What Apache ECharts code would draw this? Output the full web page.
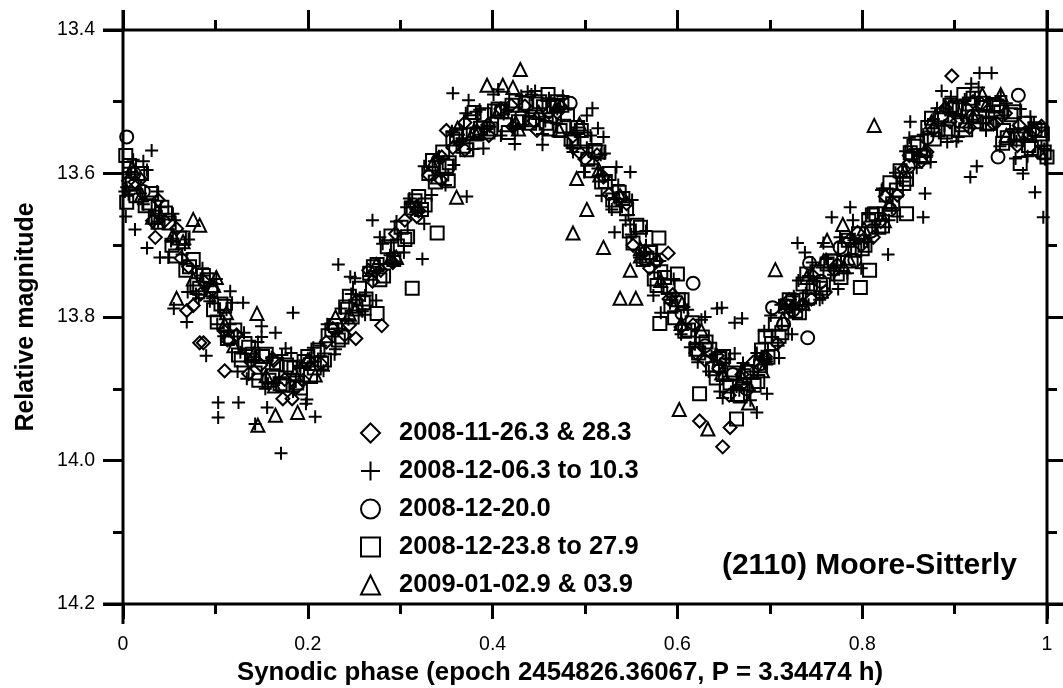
<!DOCTYPE html>
<html>
<head>
<meta charset="utf-8">
<script src="https://cdn.jsdelivr.net/npm/echarts@6/dist/echarts.min.js"></script>
<style>html,body{margin:0;padding:0;background:#fff}#c{width:1063px;height:688px}</style>
</head>
<body>
<div id="c"></div>
<script>
// ---- data: [phase, relative magnitude] ----
const seriesNames = ['2008-11-26.3 & 28.3', '2008-12-06.3 to 10.3', '2008-12-20.0', '2008-12-23.8 to 27.9', '2009-01-02.9 & 03.9'];
const xTicks = [0, 0.2, 0.4, 0.6, 0.8, 1];
const yTicks = [13.4, 13.6, 13.8, 14.0, 14.2];

const diamonds = [
[0.006,13.610],[0.019,13.608],[0.032,13.666],[0.045,13.666],[0.058,13.677],[0.071,13.730],[0.084,13.768],[0.097,13.762],
[0.110,13.820],[0.123,13.825],[0.136,13.879],[0.149,13.867],[0.162,13.858],[0.175,13.887],[0.188,13.898],[0.201,13.861],
[0.214,13.865],[0.227,13.816],[0.240,13.825],[0.253,13.777],[0.266,13.735],[0.279,13.735],[0.292,13.724],[0.305,13.665],
[0.318,13.660],[0.331,13.602],[0.344,13.609],[0.357,13.564],[0.370,13.529],[0.383,13.541],[0.396,13.547],[0.409,13.510],
[0.422,13.535],[0.435,13.506],[0.448,13.540],[0.461,13.515],[0.474,13.507],[0.487,13.548],[0.500,13.580],[0.513,13.574],
[0.526,13.629],[0.539,13.633],[0.552,13.700],[0.565,13.708],[0.578,13.722],[0.591,13.775],[0.604,13.814],[0.617,13.811],
[0.630,13.860],[0.643,13.854],[0.656,13.909],[0.669,13.895],[0.682,13.863],[0.695,13.855],[0.708,13.837],[0.721,13.776],
[0.734,13.784],[0.747,13.743],[0.760,13.765],[0.773,13.727],[0.786,13.693],[0.799,13.700],[0.812,13.689],[0.825,13.632],
[0.838,13.630],[0.851,13.575],[0.864,13.583],[0.877,13.539],[0.890,13.509],[0.903,13.527],[0.916,13.536],[0.929,13.503],
[0.942,13.531],[0.955,13.516],[0.968,13.561],[0.981,13.546],[0.994,13.534],
[0.649,13.981],[0.657,13.954],[0.624,13.945],[0.590,13.711],[0.083,13.836],[0.069,13.791],[0.076,13.784],[0.035,13.689],
[0.280,13.812],[0.110,13.875],[0.087,13.836],[0.897,13.464],[0.173,13.914],[0.183,13.914],[0.252,13.830],[0.350,13.540],
[0.013,13.612],[0.038,13.637],[0.063,13.718],[0.088,13.751],[0.113,13.832],[0.138,13.862],[0.163,13.861],[0.195,13.888],
[0.220,13.835],[0.245,13.811],[0.270,13.750],[0.295,13.684],[0.320,13.652],[0.345,13.577],[0.370,13.567],[0.395,13.532],
[0.420,13.505],[0.445,13.527],[0.470,13.515],[0.495,13.572],[0.520,13.605],[0.545,13.642],[0.570,13.732],[0.595,13.769],
[0.620,13.850],[0.645,13.872],[0.670,13.880],[0.695,13.859],[0.720,13.785],[0.745,13.775],[0.770,13.735],[0.795,13.682],
[0.820,13.667],[0.845,13.594],[0.870,13.570],[0.895,13.528],[0.920,13.500],[0.945,13.529],[0.970,13.533],[0.990,13.570]
];

const pluses = [
[0.004,13.619],[0.011,13.581],[0.019,13.628],[0.026,13.595],[0.034,13.670],[0.041,13.647],[0.049,13.717],[0.056,13.665],
[0.064,13.713],[0.071,13.692],[0.079,13.768],[0.086,13.732],[0.094,13.778],[0.101,13.747],[0.109,13.827],[0.116,13.810],
[0.124,13.876],[0.131,13.822],[0.139,13.863],[0.146,13.835],[0.154,13.900],[0.161,13.856],[0.169,13.887],[0.176,13.844],
[0.184,13.904],[0.191,13.868],[0.199,13.915],[0.206,13.843],[0.214,13.855],[0.221,13.810],[0.229,13.852],[0.236,13.788],
[0.244,13.803],[0.251,13.746],[0.259,13.792],[0.266,13.743],[0.274,13.777],[0.281,13.698],[0.289,13.714],[0.296,13.667],
[0.304,13.710],[0.311,13.642],[0.319,13.652],[0.326,13.590],[0.334,13.630],[0.341,13.578],[0.349,13.616],[0.356,13.541],
[0.364,13.560],[0.371,13.516],[0.379,13.566],[0.386,13.511],[0.394,13.538],[0.401,13.490],[0.409,13.547],[0.416,13.511],
[0.424,13.559],[0.431,13.492],[0.439,13.520],[0.446,13.485],[0.454,13.545],[0.461,13.495],[0.469,13.530],[0.476,13.492],
[0.484,13.561],[0.491,13.536],[0.499,13.598],[0.506,13.547],[0.514,13.593],[0.521,13.572],[0.529,13.650],[0.536,13.616],
[0.544,13.665],[0.551,13.637],[0.559,13.717],[0.566,13.700],[0.574,13.770],[0.581,13.722],[0.589,13.768],[0.596,13.747],
[0.604,13.824],[0.611,13.790],[0.619,13.838],[0.626,13.804],[0.634,13.876],[0.641,13.852],[0.649,13.913],[0.656,13.859],
[0.664,13.897],[0.671,13.864],[0.679,13.916],[0.686,13.850],[0.694,13.860],[0.701,13.798],[0.709,13.840],[0.716,13.789],
[0.724,13.824],[0.731,13.749],[0.739,13.767],[0.746,13.724],[0.754,13.776],[0.761,13.719],[0.769,13.741],[0.776,13.689],
[0.784,13.739],[0.791,13.693],[0.799,13.732],[0.806,13.655],[0.814,13.671],[0.821,13.623],[0.829,13.665],[0.836,13.599],
[0.844,13.611],[0.851,13.550],[0.859,13.592],[0.866,13.546],[0.874,13.584],[0.881,13.509],[0.889,13.533],[0.896,13.493],
[0.904,13.549],[0.911,13.497],[0.919,13.525],[0.926,13.480],[0.934,13.540],[0.941,13.506],[0.949,13.562],[0.956,13.502],
[0.964,13.538],[0.971,13.510],[0.979,13.576],[0.986,13.529],[0.994,13.562],
[0.031,13.568],[0.013,13.678],[0.026,13.704],[0.040,13.717],[0.116,13.764],[0.130,13.780],[0.055,13.788],[0.069,13.807],
[0.090,13.854],[0.103,13.919],[0.103,13.940],[0.125,13.919],[0.156,13.926],[0.208,13.939],[0.171,13.990],[0.233,13.727],
[0.165,13.822],[0.184,13.794],[0.150,13.813],[0.143,13.949],[0.357,13.488],[0.270,13.665],[0.372,13.632],[0.324,13.719],
[0.508,13.509],[0.514,13.537],[0.520,13.549],[0.549,13.598],[0.532,13.682],[0.643,13.788],[0.648,13.787],[0.662,13.808],
[0.670,13.802],[0.730,13.697],[0.738,13.710],[0.686,13.933],[0.697,13.907],[0.927,13.460],[0.940,13.460],[0.852,13.528],
[0.787,13.647],[0.767,13.661],[0.828,13.713],[0.866,13.661],[0.868,13.628],[0.924,13.590],[0.917,13.605],[0.987,13.626],
[0.974,13.600],[0.996,13.661],[0.002,13.625],[0.003,13.660],
[0.008,13.592],[0.022,13.643],[0.037,13.625],[0.052,13.694],[0.067,13.699],[0.082,13.774],[0.097,13.774],[0.112,13.790],
[0.127,13.849],[0.142,13.856],[0.157,13.893],[0.172,13.853],[0.187,13.890],[0.202,13.857],[0.217,13.875],[0.232,13.816],
[0.247,13.768],[0.262,13.770],[0.277,13.726],[0.292,13.724],[0.307,13.647],[0.322,13.647],[0.337,13.583],[0.352,13.602],
[0.367,13.551],[0.382,13.514],[0.397,13.535],[0.412,13.517],[0.427,13.538],[0.442,13.490],[0.457,13.527],[0.472,13.507],
[0.487,13.570],[0.502,13.564],[0.517,13.574],[0.532,13.634],[0.547,13.658],[0.562,13.720],[0.577,13.712],[0.592,13.781],
[0.607,13.786],[0.622,13.863],[0.637,13.855],[0.652,13.858],[0.667,13.902],[0.682,13.876],[0.697,13.862],[0.712,13.783],
[0.727,13.789],[0.742,13.743],[0.757,13.773],[0.772,13.728],[0.787,13.690],[0.802,13.695],[0.817,13.655],[0.832,13.648],
[0.847,13.569],[0.862,13.574],[0.877,13.524],[0.892,13.556],[0.907,13.518],[0.922,13.495],[0.937,13.523],[0.952,13.519],
[0.967,13.555],[0.982,13.521],[0.997,13.566],
[0.006,13.629],[0.022,13.583],[0.038,13.667],[0.054,13.656],[0.070,13.765],[0.086,13.742],[0.102,13.810],[0.118,13.780],
[0.134,13.886],[0.150,13.828],[0.166,13.892],[0.182,13.850],[0.198,13.921],[0.214,13.840],[0.230,13.845],[0.246,13.744],
[0.262,13.797],[0.278,13.689],[0.294,13.715],[0.310,13.635],[0.326,13.670],[0.342,13.576],[0.358,13.588],[0.374,13.498],
[0.390,13.565],[0.406,13.483],[0.422,13.535],[0.438,13.486],[0.454,13.560],[0.470,13.510],[0.486,13.564],[0.502,13.519],
[0.518,13.631],[0.534,13.591],[0.550,13.685],[0.566,13.680],[0.582,13.794],[0.598,13.771],[0.614,13.842],[0.630,13.800],
[0.646,13.904],[0.662,13.851],[0.678,13.902],[0.694,13.820],[0.710,13.857],[0.726,13.771],[0.742,13.783],[0.758,13.697],
[0.774,13.761],[0.790,13.665],[0.806,13.695],[0.822,13.621],[0.838,13.660],[0.854,13.570],[0.870,13.575],[0.886,13.485],
[0.902,13.555],[0.918,13.475],[0.934,13.530],[0.950,13.492],[0.966,13.579],[0.982,13.536],[0.998,13.580]
];

const circles = [
[0.004,13.549],[0.012,13.600],[0.022,13.625],[0.484,13.502],[0.605,13.795],[0.617,13.753],[0.630,13.840],[0.645,13.870],
[0.660,13.880],[0.675,13.900],[0.690,13.865],[0.703,13.787],[0.715,13.810],[0.725,13.790],[0.741,13.829],[0.743,13.725],
[0.755,13.750],[0.776,13.703],[0.792,13.721],[0.810,13.680],[0.830,13.650],[0.850,13.590],[0.870,13.550],[0.898,13.507],
[0.920,13.520],[0.947,13.577],[0.969,13.491],[0.985,13.540]
];

const squares = [
[0.003,13.575],[0.010,13.615],[0.016,13.600],[0.024,13.645],[0.031,13.628],[0.038,13.668],[0.046,13.655],[0.053,13.700],
[0.061,13.690],[0.068,13.735],[0.076,13.720],[0.083,13.760],[0.091,13.748],[0.098,13.790],[0.106,13.782],[0.113,13.830],
[0.121,13.818],[0.128,13.860],[0.136,13.842],[0.143,13.878],[0.151,13.855],[0.158,13.888],[0.166,13.866],[0.173,13.895],
[0.181,13.870],[0.188,13.892],[0.196,13.862],[0.203,13.883],[0.211,13.846],[0.218,13.860],[0.226,13.818],[0.233,13.832],
[0.241,13.786],[0.248,13.800],[0.256,13.760],[0.263,13.775],[0.271,13.730],[0.278,13.748],[0.286,13.702],[0.293,13.720],
[0.301,13.675],[0.308,13.688],[0.316,13.638],[0.323,13.650],[0.331,13.600],[0.338,13.612],[0.346,13.570],[0.353,13.585],
[0.361,13.548],[0.368,13.562],[0.376,13.528],[0.383,13.545],[0.391,13.518],[0.398,13.538],[0.406,13.510],[0.413,13.532],
[0.421,13.505],[0.428,13.528],[0.436,13.502],[0.443,13.525],[0.451,13.500],[0.458,13.530],[0.466,13.506],[0.473,13.540],
[0.481,13.518],[0.488,13.556],[0.496,13.540],[0.503,13.580],[0.511,13.568],[0.518,13.612],[0.526,13.600],[0.533,13.645],
[0.541,13.635],[0.548,13.680],[0.556,13.672],[0.563,13.720],[0.571,13.710],[0.578,13.756],[0.586,13.745],[0.593,13.785],
[0.601,13.776],[0.608,13.820],[0.616,13.808],[0.623,13.850],[0.631,13.835],[0.638,13.872],[0.646,13.858],[0.653,13.896],
[0.661,13.878],[0.668,13.910],[0.676,13.876],[0.683,13.895],[0.691,13.846],[0.698,13.856],[0.706,13.810],[0.713,13.822],
[0.721,13.776],[0.728,13.792],[0.736,13.754],[0.743,13.772],[0.751,13.737],[0.758,13.755],[0.766,13.722],[0.773,13.740],
[0.781,13.706],[0.788,13.722],[0.796,13.684],[0.803,13.700],[0.811,13.658],[0.818,13.675],[0.826,13.630],[0.833,13.642],
[0.841,13.596],[0.848,13.608],[0.856,13.562],[0.863,13.575],[0.871,13.536],[0.878,13.552],[0.886,13.518],[0.893,13.538],
[0.901,13.508],[0.908,13.532],[0.916,13.503],[0.923,13.528],[0.931,13.502],[0.938,13.530],[0.946,13.506],[0.953,13.540],
[0.961,13.518],[0.968,13.552],[0.976,13.530],[0.983,13.565],[0.991,13.540],[0.997,13.570],
[0.313,13.760],[0.275,13.795],[0.340,13.683],[0.581,13.809],[0.798,13.759],[0.808,13.735],[0.848,13.656],[0.971,13.586],
[1.000,13.577],[0.624,13.907],[0.664,13.942],[0.004,13.640],[0.690,13.868],[0.352,13.610],[0.475,13.505],[0.460,13.490],
[0.895,13.505],[0.910,13.490],[0.580,13.690],[0.600,13.740],[0.952,13.558],
[0.007,13.589],[0.014,13.631],[0.020,13.600],[0.028,13.641],[0.035,13.661],[0.042,13.647],[0.050,13.669],[0.057,13.715],
[0.065,13.690],[0.072,13.730],[0.080,13.755],[0.087,13.742],[0.095,13.762],[0.102,13.807],[0.110,13.785],[0.117,13.828],
[0.125,13.853],[0.132,13.837],[0.140,13.852],[0.147,13.888],[0.155,13.852],[0.162,13.882],[0.170,13.893],[0.177,13.867],
[0.185,13.871],[0.192,13.899],[0.200,13.855],[0.207,13.871],[0.215,13.864],[0.222,13.826],[0.230,13.812],[0.237,13.828],
[0.245,13.771],[0.252,13.785],[0.260,13.780],[0.267,13.739],[0.275,13.727],[0.282,13.743],[0.290,13.687],[0.297,13.701],
[0.305,13.692],[0.312,13.648],[0.320,13.632],[0.327,13.644],[0.335,13.582],[0.342,13.592],[0.350,13.590],[0.357,13.552],
[0.365,13.546],[0.372,13.567],[0.380,13.515],[0.387,13.537],[0.395,13.542],[0.402,13.513],[0.410,13.514],[0.417,13.543],
[0.425,13.499],[0.432,13.523],[0.440,13.530],[0.447,13.503],[0.455,13.507],[0.462,13.538],[0.470,13.500],[0.477,13.534],
[0.485,13.552],[0.492,13.536],[0.500,13.552],[0.507,13.596],[0.515,13.570],[0.522,13.611],[0.530,13.637],[0.537,13.626],
[0.545,13.649],[0.552,13.697],[0.560,13.675],[0.567,13.718],[0.575,13.747],[0.582,13.737],[0.590,13.757],[0.597,13.801],
[0.605,13.776],[0.612,13.818],[0.620,13.845],[0.627,13.828],[0.635,13.845],[0.642,13.885],[0.650,13.855],[0.657,13.892],
[0.665,13.908],[0.672,13.882],[0.680,13.877],[0.687,13.890],[0.695,13.827],[0.702,13.837],[0.710,13.827],[0.717,13.785],
[0.725,13.777],[0.732,13.794],[0.740,13.740],[0.747,13.759],[0.755,13.760],[0.762,13.726],[0.770,13.722],[0.777,13.745],
[0.785,13.693],[0.792,13.707],[0.800,13.705],[0.807,13.666],[0.815,13.656],[0.822,13.673],[0.830,13.613],[0.837,13.623],
[0.845,13.614],[0.852,13.571],[0.860,13.557],[0.867,13.577],[0.875,13.523],[0.882,13.539],[0.890,13.542],[0.897,13.510],
[0.905,13.511],[0.912,13.539],[0.920,13.495],[0.927,13.521],[0.935,13.530],[0.942,13.504],[0.950,13.514],[0.957,13.550],
[0.965,13.514],[0.972,13.546],[0.980,13.561],[0.987,13.538],[0.995,13.545]
];

const triangles = [
[0.010,13.592],[0.032,13.661],[0.054,13.686],[0.076,13.747],[0.098,13.756],[0.120,13.840],[0.142,13.851],[0.164,13.896],
[0.186,13.879],[0.208,13.881],[0.230,13.800],[0.252,13.789],[0.274,13.727],[0.296,13.717],[0.318,13.645],[0.340,13.605],
[0.362,13.537],[0.384,13.543],[0.406,13.513],[0.428,13.538],[0.450,13.515],[0.472,13.539],[0.494,13.531],[0.516,13.602],
[0.538,13.631],[0.560,13.715],[0.582,13.749],[0.604,13.809],[0.626,13.819],[0.648,13.878],[0.670,13.885],[0.692,13.875],
[0.714,13.803],[0.736,13.781],[0.758,13.722],[0.780,13.730],[0.802,13.677],[0.824,13.666],[0.846,13.597],[0.868,13.568],
[0.890,13.507],[0.912,13.527],[0.934,13.505],[0.956,13.547],[0.978,13.545],
[0.430,13.455],[0.491,13.607],[0.502,13.650],[0.487,13.683],[0.520,13.703],[0.549,13.735],[0.538,13.774],[0.555,13.774],
[0.602,13.929],[0.633,13.956],[0.706,13.734],[0.813,13.533],[0.779,13.671],[0.762,13.693],[0.076,13.664],[0.083,13.672],
[0.101,13.745],[0.058,13.774],[0.145,13.795],[0.112,13.794],[0.165,13.937],[0.189,13.933],[0.146,13.951],[0.394,13.477],
[0.411,13.477],[0.422,13.480],[0.930,13.490],[0.950,13.490],[0.677,13.920],[0.361,13.633],
[0.020,13.630],[0.065,13.695],[0.110,13.810],[0.155,13.882],[0.200,13.860],[0.245,13.796],[0.290,13.717],[0.335,13.587],
[0.380,13.540],[0.425,13.529],[0.470,13.505],[0.515,13.595],[0.560,13.705],[0.605,13.781],[0.650,13.880],[0.695,13.857],
[0.740,13.745],[0.785,13.718],[0.830,13.643],[0.875,13.528],[0.920,13.520],[0.965,13.544]
];

const seriesData = [diamonds, pluses, circles, squares, triangles];
const symbols = ['diamond', 'path://M0 5 L10 5 M5 0 L5 10', 'circle', 'rect', 'triangle'];

// ---- layout ----
const FONT = '"Liberation Sans", Arial, Helvetica, sans-serif';
const GL = 123, GT = 30, GW = 924, GH = 574, W = 1063;
const EXT = 20;

const chart = echarts.init(document.getElementById('c'), null, {renderer: 'canvas'});

function xAxisCfg(pos, labels, majorLen) {
  return {
    type: 'value', position: pos, min: xTicks[0], max: xTicks[xTicks.length - 1], interval: 0.2,
    axisLine: {show: false, onZero: false},
    axisTick: {show: true, inside: false, length: majorLen, lineStyle: {color: '#000', width: 3}},
    minorTick: {show: true, splitNumber: 2, length: 10, lineStyle: {color: '#000', width: 3}},
    splitLine: {show: false}, minorSplitLine: {show: false},
    axisLabel: {show: labels, margin: 31, fontSize: 19.5, color: '#000', fontFamily: FONT,
      formatter: v => String(+v.toFixed(1))}
  };
}
function yAxisCfg(pos, labels) {
  return {
    type: 'value', position: pos, inverse: true, min: yTicks[0], max: yTicks[yTicks.length - 1], interval: 0.2,
    axisLine: {show: false, onZero: false},
    axisTick: {show: true, inside: false, length: 20, lineStyle: {color: '#000', width: 3}},
    minorTick: {show: true, splitNumber: 2, length: 10, lineStyle: {color: '#000', width: 3}},
    splitLine: {show: false}, minorSplitLine: {show: false},
    axisLabel: {show: labels, margin: 28, fontSize: 19.5, color: '#000', fontFamily: FONT,
      formatter: v => v.toFixed(1)}
  };
}

const xb = xAxisCfg('bottom', true, 15);
xb.name = 'Synodic phase (epoch 2454826.36067, P = 3.34474 h)';
xb.nameLocation = 'middle';
xb.nameGap = 50;
xb.nameTextStyle = {fontSize: 25.8, fontWeight: 'bold', color: '#000', fontFamily: FONT, padding: [0, 50, 0, 0]};
const xt = xAxisCfg('top', false, 20);
const yl = yAxisCfg('left', true);
yl.name = 'Relative magnitude';
yl.nameLocation = 'middle';
yl.nameGap = 84;
yl.nameTextStyle = {fontSize: 25, fontWeight: 'bold', color: '#000', fontFamily: FONT};
const yr = yAxisCfg('right', false);

const series = seriesNames.map((n, i) => ({
  name: n, type: 'scatter', xAxisIndex: 0, yAxisIndex: 0,
  symbol: symbols[i], symbolSize: 13, data: seriesData[i],
  itemStyle: {color: 'transparent', borderColor: '#000', borderWidth: 2, opacity: 1},
  emphasis: {disabled: true}, animation: false
}));

const lineStyle = {stroke: '#000', lineWidth: 3};
chart.setOption({
  backgroundColor: '#fff',
  animation: false,
  grid: {left: GL, top: GT, width: GW, height: GH, containLabel: false, outerBoundsMode: 'none'},
  xAxis: [xb, xt],
  yAxis: [yl, yr],
  legend: {
    orient: 'vertical', left: 360, top: 420, itemWidth: 19, itemHeight: 19, itemGap: 12,
    padding: 0, selectedMode: false, data: seriesNames,
    textStyle: {fontSize: 25.5, fontWeight: 'bold', color: '#000', fontFamily: FONT, padding: [0, 0, 0, 14]}
  },
  series: series,
  graphic: [
    {type: 'line', shape: {x1: GL, y1: GT - EXT, x2: GL, y2: GT + GH + EXT}, style: lineStyle, z: 100},
    {type: 'line', shape: {x1: GL + GW, y1: GT - EXT, x2: GL + GW, y2: GT + GH + EXT}, style: lineStyle, z: 100},
    {type: 'line', shape: {x1: GL - EXT, y1: GT, x2: W, y2: GT}, style: lineStyle, z: 100},
    {type: 'line', shape: {x1: GL - EXT, y1: GT + GH, x2: W, y2: GT + GH}, style: lineStyle, z: 100},
    {type: 'text', x: 1017, y: 566, z: 100,
     style: {text: '(2110) Moore-Sitterly', font: 'bold 30px ' + FONT, fill: '#000', textAlign: 'right', textVerticalAlign: 'middle'}}
  ]
});
</script>
</body>
</html>
